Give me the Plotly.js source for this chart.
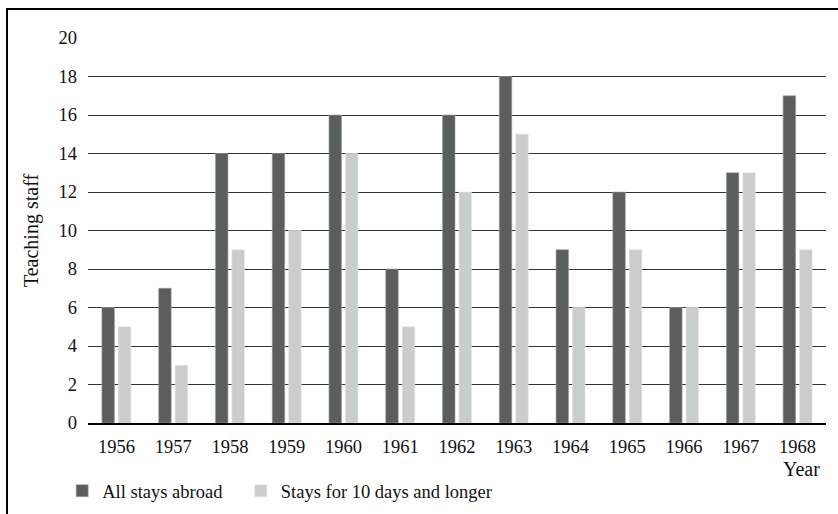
<!DOCTYPE html>
<html>
<head>
<meta charset="utf-8">
<script src="https://cdn.plot.ly/plotly-3.0.1.min.js"></script>
<style>
html,body{margin:0;padding:0;overflow:hidden;background:#fff;}
#chart{width:838px;height:514px;}
#frame{position:absolute;left:6px;top:8px;width:900px;height:600px;border-top:2px solid #000;border-left:2px solid #000;pointer-events:none;}
</style>
</head>
<body>
<div id="chart"></div>
<div id="frame"></div>
<script>
const years = ['1956','1957','1958','1959','1960','1961','1962','1963','1964','1965','1966','1967','1968'];
const allStays = [6, 7, 14, 14, 16, 8, 16, 18, 9, 12, 6, 13, 17];
const longStays = [5, 3, 9, 10, 14, 5, 12, 15, 6, 9, 6, 13, 9];
const seriesNames = ['All stays abroad', 'Stays for 10 days and longer'];
const yTicks = [0, 2, 4, 6, 8, 10, 12, 14, 16, 18, 20];

const font = {family: 'Liberation Serif, Times New Roman, serif', size: 18.5, color: '#111'};
const titleFont = {family: 'Liberation Serif, Times New Roman, serif', size: 20, color: '#111'};

const data = [
  {type: 'bar', name: seriesNames[0], x: years, y: allStays, legend: 'legend',
   marker: {color: '#5a5f5c', line: {width: 0.6, color: '#9ea2a0'}}},
  {type: 'bar', name: seriesNames[1], x: years, y: longStays, legend: 'legend2',
   marker: {color: '#c9cdcc', line: {width: 0.6, color: '#e2e4e3'}}}
];

const legBase = {orientation: 'h', xanchor: 'left', y: -0.177, yanchor: 'middle',
                 font: font, bgcolor: 'rgba(0,0,0,0)'};

const layout = {
  width: 838, height: 514,
  margin: {l: 88, r: 12, t: 38, b: 91, autoexpand: false},
  paper_bgcolor: '#fff', plot_bgcolor: '#fff',
  font: font,
  barmode: 'group', bargap: 0.42, bargroupgap: 0.24,
  showlegend: true,
  legend: Object.assign({x: -0.035}, legBase),
  legend2: Object.assign({x: 0.207}, legBase),
  xaxis: {type: 'category', showgrid: false, showline: true, linecolor: '#000', linewidth: 1.5,
          ticks: '', ticklabelstandoff: 6, tickfont: font, fixedrange: true, automargin: false},
  yaxis: {range: [0, 20], tickvals: yTicks, ticktext: yTicks.map(String),
          showgrid: true, gridcolor: '#333', gridwidth: 1, zeroline: false,
          showline: false, ticks: '', ticklabelstandoff: 10, tickfont: font, automargin: false,
          title: {text: 'Teaching staff', font: titleFont, standoff: 14}, fixedrange: true},
  annotations: [
    {text: 'Year', xref: 'paper', yref: 'paper', x: 0.9946, y: -0.12,
     xanchor: 'right', yanchor: 'middle', showarrow: false, font: titleFont}
  ]
};

Plotly.newPlot('chart', data, layout, {displayModeBar: false, staticPlot: true});
</script>
</body>
</html>
